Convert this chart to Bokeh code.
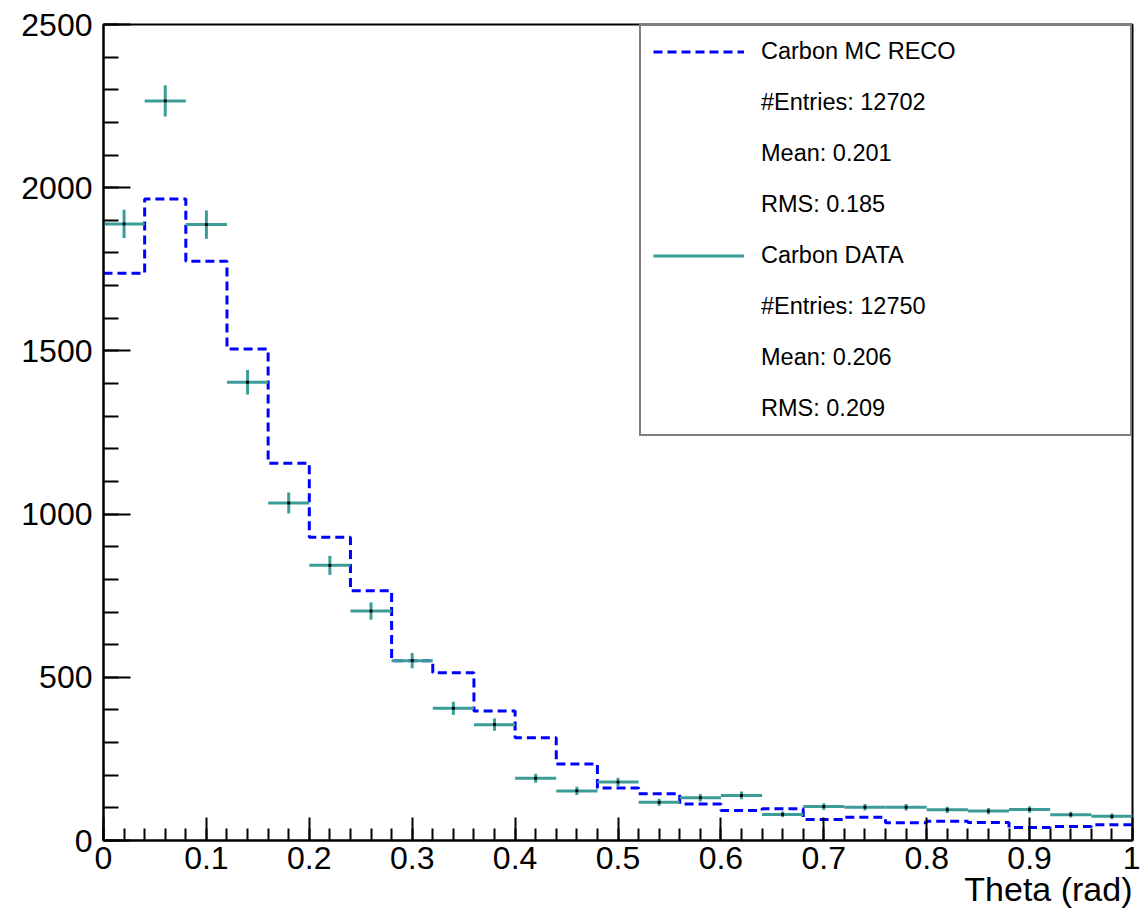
import numpy as np
from bokeh.plotting import figure
from bokeh.models import FixedTicker, Legend, LegendItem, Title, ColumnDataSource
from bokeh.embed import file_html
from bokeh.resources import INLINE

# ---- data ----
bin_edges = [0.00, 0.04, 0.08, 0.12, 0.16, 0.20, 0.24, 0.28, 0.32, 0.36, 0.40,
             0.44, 0.48, 0.52, 0.56, 0.60, 0.64, 0.68, 0.72, 0.76, 0.80,
             0.84, 0.88, 0.92, 0.96, 1.00]
mc_reco = [1738, 1965, 1775, 1506, 1156, 929, 765, 551, 514, 397, 315, 234,
           161, 143, 112, 92, 97, 64, 71, 54, 59, 55, 40, 43, 48]
carbon_data = [1889, 2266, 1887, 1404, 1034, 843, 703, 551, 405, 355, 191, 152,
               179, 117, 131, 138, 80, 104, 102, 102, 94, 90, 95, 79, 74]

x_ticks = [0.0, 0.1, 0.2, 0.3, 0.4, 0.5, 0.6, 0.7, 0.8, 0.9, 1.0]
x_tick_labels = ["0", "0.1", "0.2", "0.3", "0.4", "0.5", "0.6", "0.7", "0.8", "0.9", "1"]
x_minor = [round(0.02 * i, 2) for i in range(51)]
y_ticks = [0, 500, 1000, 1500, 2000, 2500]
y_minor = [100 * i for i in range(26)]

legend_mc = ["Carbon MC RECO", "#Entries: 12702", "Mean: 0.201", "RMS: 0.185"]
legend_data = ["Carbon DATA", "#Entries: 12750", "Mean: 0.206", "RMS: 0.209"]
x_title = "Theta (rad)"

FONT = "Liberation Sans"
TEAL = "#3c9c98"
BLUE = "#0000ff"

p = figure(width=1140, height=915, x_range=(0, 1), y_range=(0, 2500),
           output_backend="svg", toolbar_location=None,
           min_border_left=103, min_border_right=8, min_border_top=24,
           min_border_bottom=75)
p.xgrid.visible = False
p.ygrid.visible = False
p.outline_line_color = "black"
p.outline_line_width = 2
p.background_fill_color = "white"
p.border_fill_color = "white"

# axes
for ax in (p.xaxis[0], p.yaxis[0]):
    ax.axis_line_width = 2
    ax.axis_line_color = "black"
    ax.major_tick_line_width = 2
    ax.minor_tick_line_width = 2
    ax.major_tick_out = 0
    ax.minor_tick_out = 0
    ax.major_label_text_font = FONT
    ax.major_label_text_font_size = "32px"
    ax.major_label_text_color = "black"

p.xaxis.ticker = FixedTicker(ticks=x_ticks, minor_ticks=x_minor)
p.xaxis.major_label_overrides = {t: l for t, l in zip(x_ticks, x_tick_labels)}
p.xaxis.major_tick_in = 23
p.xaxis.minor_tick_in = 12
p.xaxis.major_label_standoff = 6

p.yaxis.ticker = FixedTicker(ticks=y_ticks, minor_ticks=y_minor)
p.yaxis.major_tick_in = 27
p.yaxis.minor_tick_in = 15
p.yaxis.major_label_standoff = 11

# MC histogram (dashed step)
edges = np.array(bin_edges)
mc = np.array(mc_reco, dtype=float)
mc_r = p.step(x=edges, y=np.append(mc, mc[-1]), mode="after",
              line_color=BLUE, line_width=3, line_dash="9 5")

# data points with error bars
d = np.array(carbon_data, dtype=float)
err = np.sqrt(d)
centers = (edges[:-1] + edges[1:]) / 2
src = ColumnDataSource(dict(x0=edges[:-1], x1=edges[1:], xc=centers, y=d,
                            ylo=d - err, yhi=d + err))
h_r = p.segment(x0="x0", y0="y", x1="x1", y1="y", source=src,
                line_color=TEAL, line_width=3)
v_r = p.segment(x0="xc", y0="ylo", x1="xc", y1="yhi", source=src,
                line_color=TEAL, line_width=3)
dot_r = p.scatter(x="xc", y="y", source=src, size=2, color="black", marker="square")

# axis title, right-aligned under the axis
title = Title(text=x_title, align="right", text_font=FONT, text_font_size="34px",
              text_font_style="normal", text_color="black", standoff=-8,
              text_line_height=1.0)
p.add_layout(title, "below")

items = [LegendItem(label=legend_mc[0], renderers=[mc_r])]
items += [LegendItem(label=t, renderers=[]) for t in legend_mc[1:]]
items += [LegendItem(label=legend_data[0], renderers=[h_r])]
items += [LegendItem(label=t, renderers=[]) for t in legend_data[1:]]

legend = Legend(items=items, location="top_right", margin=0, padding=12,
                spacing=24, glyph_width=91, glyph_height=27, label_height=27,
                label_width=357, label_standoff=17,
                label_text_font=FONT, label_text_font_size="23.5px",
                label_text_color="black",
                border_line_color="black", border_line_width=2,
                background_fill_color="white", background_fill_alpha=1.0)
p.add_layout(legend)

open("out.html", "w").write(file_html(p, INLINE))
